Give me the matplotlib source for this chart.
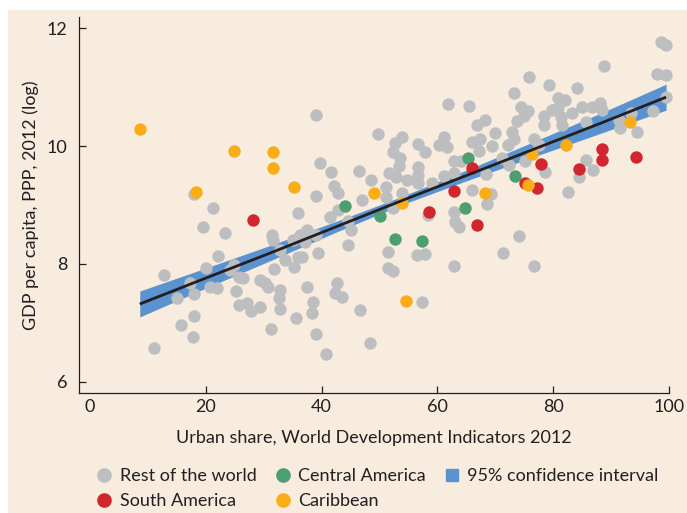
import matplotlib
matplotlib.use("Agg")
import matplotlib.pyplot as plt
from matplotlib.lines import Line2D
from matplotlib.patches import Rectangle

plt.rcParams['font.family'] = ['Lato', 'DejaVu Sans']

# urban share (%) and log GDP per capita
rest_x = [17.9, 21.2, 19.5, 23.3, 12.8, 22.1, 20.0, 17.2, 17.9, 15.0, 20.7, 21.9, 17.9, 15.7,
          17.8, 11.0, 24.8, 24.1, 25.7, 26.4, 25.3, 25.7, 27.2, 27.8, 29.3, 29.3, 30.2, 30.7,
          31.7, 31.4, 31.6, 32.9, 33.6, 32.9, 32.6, 32.9, 31.2, 35.5, 35.2, 35.9, 35.0, 36.0,
          36.2,
          39.1, 49.7, 39.8, 41.7, 46.4, 48.6, 42.1, 42.8, 39.1, 46.9, 36.7, 37.4, 37.2, 39.1,
          39.3, 37.4, 38.6, 38.3, 39.0, 40.7, 41.4, 42.8, 44.5, 45.0, 44.5, 42.6, 42.4, 43.6,
          46.7, 48.3, 51.4, 51.4, 52.4, 51.2, 51.2, 52.4,
          52.6, 52.4, 51.7, 53.3, 53.8, 53.6, 52.9, 54.7, 56.6, 56.7, 56.7, 53.8, 56.7, 57.8,
          61.2, 60.3, 61.7, 59.1, 61.2, 62.8, 64.0, 62.9, 61.9, 65.5,
          73.3, 74.5, 75.7, 75.0, 73.8, 68.3, 66.9, 70.0, 72.8, 73.3, 72.2, 76.6, 67.4, 66.0,
          67.2, 69.5, 71.2, 72.4, 75.2, 77.6, 68.4, 65.9, 69.3, 68.6, 75.9,
          98.6, 99.5, 88.8, 97.9, 99.5, 79.3, 84.1, 80.9, 82.1, 78.4, 79.8, 80.9, 81.4, 81.6,
          78.4, 83.3, 85.0, 86.7, 88.1, 88.4, 85.7, 91.4, 91.6, 93.4, 94.5, 97.2, 99.5, 85.7,
          86.9, 84.5, 78.6, 82.6,
          56.4, 57.8, 62.9, 71.4, 74.1, 76.7, 57.4, 62.8, 63.1, 63.8, 58.3]
rest_y = [9.19, 8.95, 8.63, 8.53, 7.81, 8.14, 7.93, 7.68, 7.49, 7.42, 7.61, 7.59, 7.12, 6.97,
          6.76, 6.58, 7.98, 7.90, 7.78, 7.76, 7.54, 7.31, 7.34, 7.20, 7.27, 7.73, 7.68, 7.61,
          7.92, 8.49, 8.41, 8.24, 8.07, 7.56, 7.42, 7.24, 6.90, 7.08, 7.95, 8.12, 8.41, 8.86,
          8.49,
          10.53, 10.20, 9.71, 9.56, 9.58, 9.42, 9.32, 9.20, 9.15, 9.08, 8.12, 8.58, 8.37, 8.49,
          8.19, 7.61, 7.36, 7.17, 6.81, 6.47, 8.80, 8.92, 8.73, 8.58, 8.32, 7.68, 7.51, 7.44,
          7.22, 6.66, 8.20, 7.93, 7.88, 9.31, 9.14, 8.95,
          10.05, 9.90, 9.54, 9.66, 10.15, 9.80, 9.47, 9.42, 9.64, 9.51, 9.37, 9.20, 10.03, 9.90,
          10.15, 10.02, 9.98, 9.37, 9.49, 9.75, 9.75, 9.54, 10.71, 10.68,
          10.90, 10.66, 10.59, 10.51, 10.42, 10.44, 10.36, 10.22, 10.24, 10.12, 10.02, 10.12,
          10.12, 10.07, 9.92, 10.00, 9.80, 9.68, 9.75, 10.02, 9.53, 9.25, 9.19, 9.02, 11.17,
          11.76, 11.71, 11.36, 11.22, 11.20, 11.03, 10.98, 10.81, 10.78, 10.51, 10.61, 10.64,
          10.49, 10.36, 10.36, 10.56, 10.66, 10.66, 10.73, 10.61, 10.41, 10.44, 10.31, 10.56,
          10.24, 10.59, 10.83, 9.76, 9.59, 9.47, 9.56, 9.22,
          8.15, 8.17, 7.97, 8.19, 8.47, 7.97, 7.36, 8.88, 8.71, 8.63, 8.83]

central_x = [44.1, 50.0, 52.6, 57.4, 64.8, 65.3, 73.4]
central_y = [8.98, 8.81, 8.42, 8.39, 8.95, 9.80, 9.49]

south_x = [28.1, 58.6, 62.8, 65.9, 66.9, 75.2, 77.2, 77.9, 84.5, 88.4, 88.4, 94.3]
south_y = [8.75, 8.88, 9.24, 9.63, 8.66, 9.37, 9.29, 9.69, 9.61, 9.95, 9.76, 9.81]

carib_x = [8.6, 18.3, 24.8, 31.6, 31.6, 35.3, 49.1, 53.8, 54.5, 68.3, 75.7, 76.4, 82.2, 93.3]
carib_y = [10.29, 9.22, 9.92, 9.90, 9.63, 9.30, 9.20, 9.03, 7.37, 9.20, 9.34, 9.86, 10.02, 10.41]

# fitted line and 95% band
fit_x = [8.6, 20, 31, 43, 54, 65, 77, 88, 99.5]
fit_y = [7.32, 7.76, 8.18, 8.65, 9.08, 9.50, 9.96, 10.38, 10.83]
ci_lo = [7.10, 7.59, 8.05, 8.56, 9.01, 9.41, 9.83, 10.21, 10.61]
ci_hi = [7.54, 7.93, 8.31, 8.74, 9.15, 9.59, 10.09, 10.55, 11.05]

BEIGE = '#f7ecde'
GREY = '#bdbec0'
GREEN = '#4c9f70'
RED = '#d1262f'
ORANGE = '#fbad18'
BLUE = '#5a93d0'
INK = '#231f20'

fig = plt.figure(figsize=(6.87, 5.13), dpi=100, facecolor='white')
fig.patches.append(Rectangle((8 / 687, 0), 1, 1 - 10 / 513, transform=fig.transFigure,
                             facecolor=BEIGE, edgecolor='none', zorder=-10))
ax = fig.add_axes([79 / 687, 1 - 393 / 513, 590 / 687, 376 / 513])
ax.set_facecolor('none')

ax.fill_between(fit_x, ci_lo, ci_hi, color=BLUE, linewidth=0, zorder=1)
s = 80
ax.scatter(rest_x, rest_y, s=s, color=GREY, linewidths=0, zorder=2, clip_on=False)
ax.scatter(central_x, central_y, s=s, color=GREEN, linewidths=0, zorder=3, clip_on=False)
ax.scatter(south_x, south_y, s=s, color=RED, linewidths=0, zorder=3, clip_on=False)
ax.scatter(carib_x, carib_y, s=s, color=ORANGE, linewidths=0, zorder=3, clip_on=False)
ax.plot(fit_x, fit_y, color=INK, linewidth=2.0, zorder=5, solid_capstyle='butt')

ax.set_xlim(-1.9, 100)
ax.set_ylim(5.81, 12.19)
ax.set_xticks([0, 20, 40, 60, 80, 100])
ax.set_yticks([6, 8, 10, 12])
ax.xaxis.get_major_ticks()[0].tick1line.set_visible(False)

for side in ['top', 'right']:
    ax.spines[side].set_visible(False)
for side in ['left', 'bottom']:
    ax.spines[side].set_color(INK)
    ax.spines[side].set_linewidth(0.9)

fs = 13
ax.tick_params(axis='both', direction='in', length=5, width=0.9, color=INK,
               labelsize=fs, labelcolor=INK)
ax.tick_params(axis='x', pad=4.5)
ax.tick_params(axis='y', pad=8.5)

ax.set_xlabel('Urban share, World Development Indicators 2012', fontsize=fs, color=INK,
              labelpad=10.5)
ax.set_ylabel('GDP per capita, PPP, 2012 (log)', fontsize=fs, color=INK, labelpad=5)

handles = [
    Line2D([], [], marker='o', linestyle='none', markersize=9.5, color=GREY, label='Rest of the world'),
    Line2D([], [], marker='o', linestyle='none', markersize=9.5, color=RED, label='South America'),
    Line2D([], [], marker='o', linestyle='none', markersize=9.5, color=GREEN, label='Central America'),
    Line2D([], [], marker='o', linestyle='none', markersize=9.5, color=ORANGE, label='Caribbean'),
    Line2D([], [], marker='s', linestyle='none', markersize=9, color=BLUE, label='95% confidence interval'),
]
leg = fig.legend(handles=handles, ncol=3, loc='upper left',
                 bbox_to_anchor=(97 / 687, 1 - 468 / 513), frameon=False,
                 fontsize=fs, handlelength=0.8, handletextpad=0.45,
                 columnspacing=1.05, labelspacing=0.5, borderpad=0, borderaxespad=0)
for t in leg.get_texts():
    t.set_color(INK)

fig.savefig('out.png', dpi=100, facecolor=fig.get_facecolor())
